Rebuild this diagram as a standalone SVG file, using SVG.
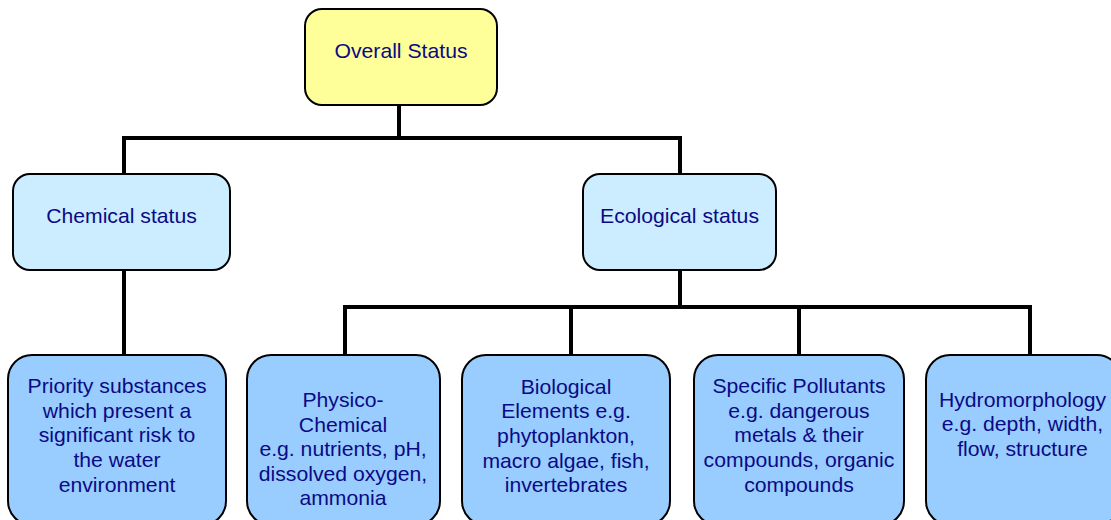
<svg xmlns="http://www.w3.org/2000/svg" width="1111" height="520" viewBox="0 0 1111 520">
<style>
.box{stroke:#000;stroke-width:2}
.top{fill:#FFFF99}
.mid{fill:#CCECFF}
.bot{fill:#99CCFF}
text{font-family:"Liberation Sans",Arial,sans-serif;font-size:20px;fill:#0a0a85;text-anchor:middle}
.wire{stroke:#000;stroke-width:4;fill:none;stroke-linecap:square}
</style>
<rect width="1111" height="520" fill="#fff"/>
<g id="connectors">
<path class="wire" d="M399,105 V138 M124,138 H680 M124,138 V174 M680,138 V174"/>
<path class="wire" d="M124,270 V355"/>
<path class="wire" d="M680,270 V307 M345,307 H1030 M345,307 V355 M571,307 V355 M799,307 V355 M1030,307 V355"/>
</g>
<g id="overall">
<rect class="box top" x="305" y="9" width="192" height="96" rx="17"/>
<g transform="translate(401,0) scale(1.06,1)"><text x="0" y="58">Overall Status</text></g>
</g>
<g id="chemical">
<rect class="box mid" x="13" y="174" width="217" height="96" rx="17"/>
<g transform="translate(121.5,0) scale(1.06,1)"><text x="0" y="223">Chemical status</text></g>
</g>
<g id="ecological">
<rect class="box mid" x="583" y="174" width="193" height="96" rx="17"/>
<g transform="translate(679.5,0) scale(1.06,1)"><text x="0" y="223">Ecological status</text></g>
</g>
<g id="priority">
<rect class="box bot" x="8" y="355" width="218" height="170" rx="24"/>
<g transform="translate(117,0) scale(1.06,1)"><text x="0" y="393">Priority substances</text><text x="0" y="418">which present a</text><text x="0" y="442">significant risk to</text><text x="0" y="467">the water</text><text x="0" y="492">environment</text></g>
</g>
<g id="physico">
<rect class="box bot" x="247" y="355" width="193" height="170" rx="24"/>
<g transform="translate(343,0) scale(1.06,1)"><text x="0" y="407">Physico-</text><text x="0" y="432">Chemical</text><text x="0" y="456">e.g. nutrients, pH,</text><text x="0" y="481">dissolved oxygen,</text><text x="0" y="505">ammonia</text></g>
</g>
<g id="biological">
<rect class="box bot" x="462" y="355" width="208" height="170" rx="24"/>
<g transform="translate(566,0) scale(1.06,1)"><text x="0" y="394">Biological</text><text x="0" y="418">Elements e.g.</text><text x="0" y="443">phytoplankton,</text><text x="0" y="468">macro algae, fish,</text><text x="0" y="492">invertebrates</text></g>
</g>
<g id="specific">
<rect class="box bot" x="694" y="355" width="210" height="170" rx="24"/>
<g transform="translate(799,0) scale(1.06,1)"><text x="0" y="393">Specific Pollutants</text><text x="0" y="418">e.g. dangerous</text><text x="0" y="442">metals &amp; their</text><text x="0" y="467">compounds, organic</text><text x="0" y="492">compounds</text></g>
</g>
<g id="hydromorphology">
<rect class="box bot" x="926" y="355" width="195" height="170" rx="24"/>
<g transform="translate(1022.5,0) scale(1.06,1)"><text x="0" y="407">Hydromorphology</text><text x="0" y="431">e.g. depth, width,</text><text x="0" y="456">flow, structure</text></g>
</g>
</svg>
